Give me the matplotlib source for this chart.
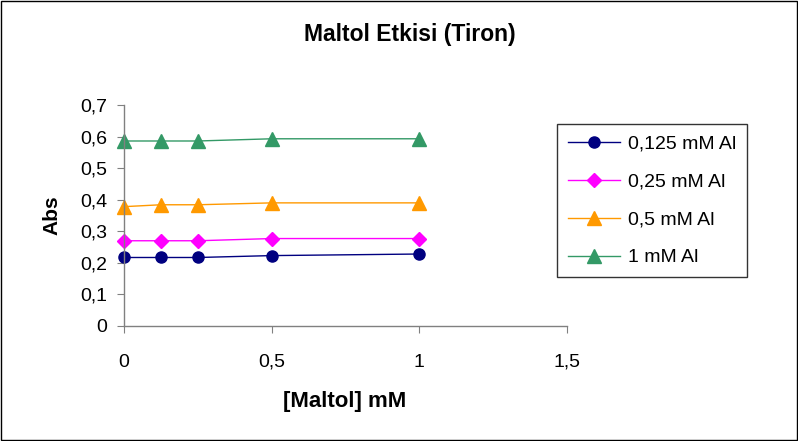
import matplotlib
matplotlib.use("Agg")
import matplotlib.pyplot as plt
from matplotlib.ticker import FuncFormatter, MultipleLocator
from matplotlib.patches import Rectangle

plt.rcParams['font.family'] = ['Liberation Sans', 'DejaVu Sans']

x = [0, 0.125, 0.25, 0.5, 1]
s0125 = [0.217, 0.217, 0.217, 0.223, 0.228]
s025 = [0.270, 0.270, 0.270, 0.277, 0.277]
s05 = [0.378, 0.384, 0.384, 0.390, 0.390]
s1 = [0.586, 0.586, 0.586, 0.593, 0.593]
labels = ['0,125 mM Al', '0,25 mM Al', '0,5 mM Al', '1 mM Al']
colors = ['#000080', '#FF00FF', '#FF9900', '#339966']
markers = ['o', 'D', '^', '^']
msizes = [8, 7.5, 9.5, 9.5]

fig = plt.figure(figsize=(7.98, 4.41), dpi=100)
ax = fig.add_axes([124/798, 1-326/441, (567-124)/798, (326-105)/441])

for ys, lab, c, m, ms in zip([s0125, s025, s05, s1], labels, colors, markers, msizes):
    ax.plot(x, ys, color=c, marker=m, markersize=ms, linewidth=1, label=lab,
            markeredgecolor=c, markerfacecolor=c, clip_on=False)

ax.set_xlim(0, 1.5)
ax.set_ylim(0, 0.7)
ax.xaxis.set_major_locator(MultipleLocator(0.5))
ax.yaxis.set_major_locator(MultipleLocator(0.1))
fmt = FuncFormatter(lambda v, p: ('%g' % round(v, 3)).replace('.', ','))
ax.xaxis.set_major_formatter(fmt)
ax.yaxis.set_major_formatter(fmt)
for s in ['top', 'right']:
    ax.spines[s].set_visible(False)
for s in ['left', 'bottom']:
    ax.spines[s].set_color('#808080')
    ax.spines[s].set_linewidth(1)
ax.tick_params(axis='both', direction='out', length=5, color='#808080', labelsize=14)
ax.tick_params(axis='y', pad=7)
ax.tick_params(axis='x', pad=15)

fig.text(345/798, 1-401/441, '[Maltol] mM', fontsize=16, fontweight='bold',
         ha='center', va='center')
fig.text(52/798, 1-215/441, 'Abs', fontsize=15, fontweight='bold',
         ha='center', va='center', rotation=90)
fig.text(410/798, 1-34/441, 'Maltol Etkisi (Tiron)', fontsize=16.5, fontweight='bold',
         ha='center', va='center')

leg = fig.legend(loc='upper left', bbox_to_anchor=(557/798, 1-124/441), fontsize=14,
                 frameon=True, fancybox=False, edgecolor='black', handlelength=2.7,
                 labelspacing=1.05, borderpad=0.55, handletextpad=0.4, borderaxespad=0)
leg.get_frame().set_linewidth(1)

fig.patches.append(Rectangle((1/798, 1/441), 796/798, 439/441, transform=fig.transFigure,
                             fill=False, edgecolor='black', linewidth=1))

fig.savefig('out.png', dpi=100)
